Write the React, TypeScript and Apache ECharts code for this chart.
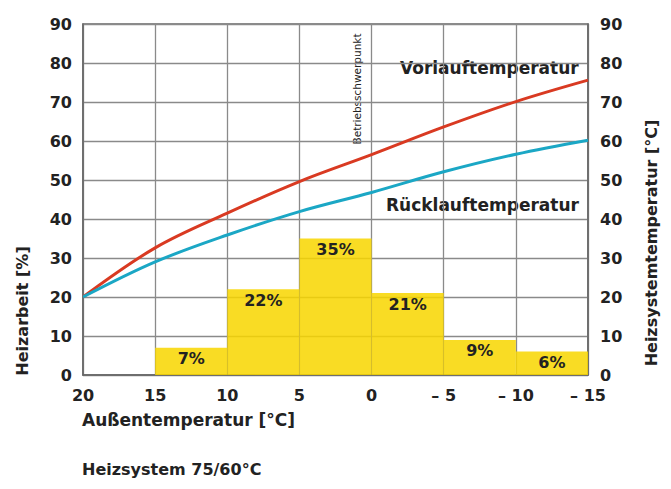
import React, { useEffect, useRef } from "react";
import * as echarts from "echarts";

const temps = [20, 15, 10, 5, 0, -5, -10, -15];
const vorlauf = [20, 32.6, 41.5, 49.6, 56.5, 63.6, 70.1, 75.6];
const ruecklauf = [20, 29.0, 35.9, 41.9, 46.8, 52.1, 56.6, 60.2];
const binStart = [15, 10, 5, 0, -5, -10];
const binEnd = [10, 5, 0, -5, -10, -15];
const heizarbeit = [7, 22, 35, 21, 9, 6];

const FONT = "DejaVu Sans";
const TXT = "#222";

export default function App() {
  const ref = useRef<HTMLDivElement>(null);
  useEffect(() => {
    const chart = echarts.init(ref.current!, null, { renderer: "svg" });
    const barData = binStart.map((s, i) => [s, binEnd[i], heizarbeit[i]]);
    const axisLabel = { fontFamily: FONT, fontWeight: "bold", fontSize: 16, color: TXT };
    chart.setOption({
      animation: false,
      backgroundColor: "#fff",
      grid: {
        left: 83, right: 83, top: 24, bottom: 114,
        show: true, borderColor: "#666", borderWidth: 1.5, backgroundColor: "transparent",
      },
      xAxis: {
        type: "value", inverse: true, min: -15, max: 20, interval: 5,
        axisLine: { show: true, onZero: false, lineStyle: { color: "#666", width: 1.5 } },
        axisTick: { show: false },
        splitLine: { show: true, lineStyle: { color: "#8a8a8a", width: 1.3 } },
        axisLabel: {
          ...axisLabel, margin: 12,
          formatter: (v: number) => (v < 0 ? "\u2013 " + Math.abs(v) : String(v)),
        },
      },
      yAxis: [
        {
          type: "value", min: 0, max: 90, interval: 10, position: "left",
          axisLine: { show: true, onZero: false, lineStyle: { color: "#666", width: 1.5 } },
          axisTick: { show: false },
          splitLine: { show: true, lineStyle: { color: "#8a8a8a", width: 1.3 } },
          axisLabel: { ...axisLabel, margin: 11 },
        },
        {
          type: "value", min: 0, max: 90, interval: 10, position: "right",
          axisLine: { show: true, onZero: false, lineStyle: { color: "#666", width: 1.5 } },
          axisTick: { show: false },
          splitLine: { show: false },
          axisLabel: { ...axisLabel, margin: 12 },
        },
      ],
      series: [
        {
          type: "custom",
          xAxisIndex: 0,
          yAxisIndex: 0,
          encode: { x: [0, 1], y: 2 },
          data: barData,
          z: 2,
          renderItem: (params: any, api: any) => {
            const x0 = api.value(0), x1 = api.value(1), v = api.value(2);
            const p0 = api.coord([x0, v]);
            const p1 = api.coord([x1, 0]);
            const left = Math.min(p0[0], p1[0]);
            const w = Math.abs(p1[0] - p0[0]);
            return {
              type: "group",
              children: [
                {
                  type: "rect",
                  shape: { x: left, y: p0[1], width: w, height: p1[1] - p0[1] },
                  style: { fill: "rgba(248,214,0,0.86)" },
                },
                {
                  type: "text",
                  x: left + w / 2,
                  y: p0[1] + 11,
                  style: {
                    text: v + "%", fontFamily: FONT, fontWeight: "bold", fontSize: 16,
                    fill: TXT, align: "center", verticalAlign: "middle",
                  },
                },
              ],
            };
          },
        },
        {
          type: "line", name: "Vorlauftemperatur", yAxisIndex: 1, smooth: 0.35, symbol: "none", z: 3,
          data: temps.map((t, i) => [t, vorlauf[i]]),
          lineStyle: { color: "#d93a22", width: 3 },
        },
        {
          type: "line", name: "Rücklauftemperatur", yAxisIndex: 1, smooth: 0.35, symbol: "none", z: 3,
          data: temps.map((t, i) => [t, ruecklauf[i]]),
          lineStyle: { color: "#1ba7c5", width: 3 },
        },
      ],
      graphic: [
        {
          type: "text", left: 400, top: 59,
          style: { text: "Vorlauftemperatur", fontFamily: FONT, fontWeight: "bold", fontSize: 17, fill: TXT },
        },
        {
          type: "text", left: 386, top: 196,
          style: { text: "Rücklauftemperatur", fontFamily: FONT, fontWeight: "bold", fontSize: 17, fill: TXT },
        },
        {
          type: "text", x: 357, y: 89, rotation: Math.PI / 2,
          style: { text: "Betriebsschwerpunkt", fontFamily: FONT, fontSize: 10.5, fill: TXT, align: "center", verticalAlign: "middle" },
        },
        {
          type: "text", x: 22, y: 311, rotation: Math.PI / 2,
          style: { text: "Heizarbeit [%]", fontFamily: FONT, fontWeight: "bold", fontSize: 16, fill: TXT, align: "center", verticalAlign: "middle" },
        },
        {
          type: "text", x: 651, y: 243, rotation: Math.PI / 2,
          style: { text: "Heizsystemtemperatur [°C]", fontFamily: FONT, fontWeight: "bold", fontSize: 16, fill: TXT, align: "center", verticalAlign: "middle" },
        },
        {
          type: "text", left: 82, top: 411,
          style: { text: "Außentemperatur [°C]", fontFamily: FONT, fontWeight: "bold", fontSize: 17, fill: TXT },
        },
        {
          type: "text", left: 82, top: 461,
          style: { text: "Heizsystem 75/60°C", fontFamily: FONT, fontWeight: "bold", fontSize: 16, fill: TXT },
        },
      ],
    });
    return () => chart.dispose();
  }, []);
  return <div ref={ref} style={{ width: 671, height: 489, position: "absolute", left: 0, top: 0 }} />;
}
